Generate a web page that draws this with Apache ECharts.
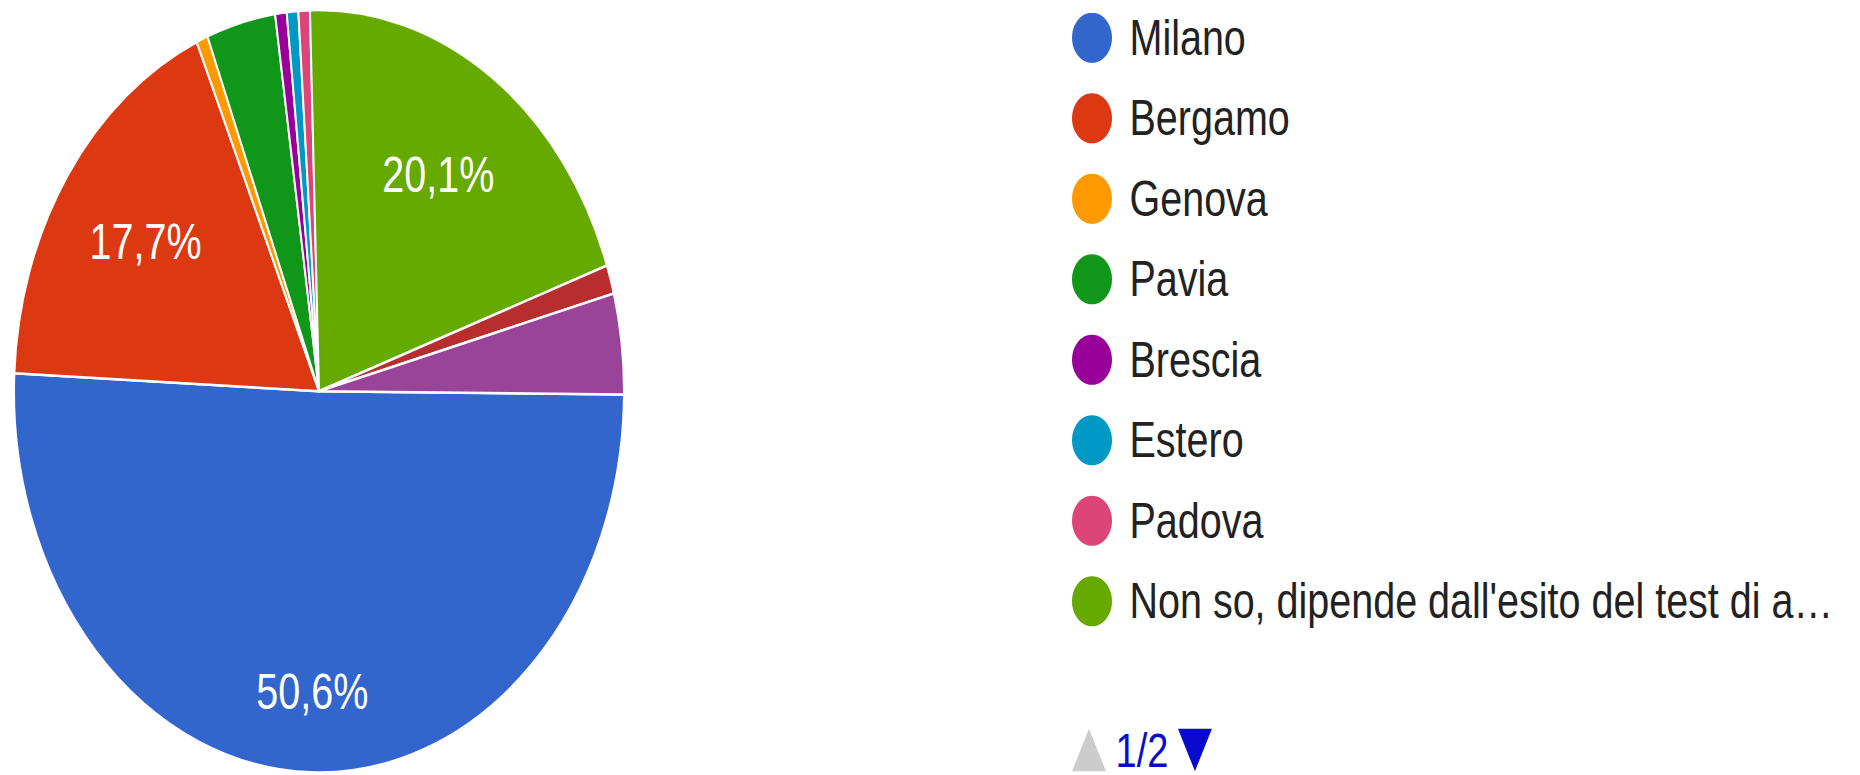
<!DOCTYPE html>
<html>
<head>
<meta charset="utf-8">
<script src="https://cdn.jsdelivr.net/npm/echarts@6/dist/echarts.min.js"></script>
<style>
  html, body { margin: 0; padding: 0; background: #fff; }
  #page { width: 1860px; height: 775px; position: relative; overflow: hidden; }
  #wrap { position: absolute; left: 0; top: 0; width: 1860px; height: 620px; transform: scaleY(1.25); transform-origin: 0 0; }
</style>
</head>
<body>
<div id="page"><div id="wrap"></div></div>
<script>
const categories = ['Milano', 'Bergamo', 'Genova', 'Pavia', 'Brescia', 'Estero', 'Padova',
  "Non so, dipende dall'esito del test di a\u2026", 'Altro', 'Altra città'];
const counts = [83, 29, 1, 6, 1, 1, 1, 33, 2, 7];
const colors = ['#3366cc', '#dc3912', '#ff9900', '#109618', '#990099', '#0099c6', '#dd4477',
  '#66aa00', '#b82e2e', '#994499'];
const labelThreshold = 5; // percent

const FONT = '"Liberation Sans", Arial, sans-serif';
const FS = 39.5;
const fmtPct = p => p.toFixed(1).replace('.', ',') + '%';
const pieData = categories.map((n, i) => ({ name: n, value: counts[i] }));

const chart = echarts.init(document.getElementById('wrap'), null, { renderer: 'svg', width: 1860, height: 620 });
const R = 305;
const CENTER = [319, 313];
const START = -0.5;
const PAGER_BLUE = '#0a0acc';

function overlay(r0, test) {
  return {
    type: 'pie',
    radius: [r0, R],
    center: CENTER,
    startAngle: START,
    silent: true,
    z: 5,
    data: pieData,
    itemStyle: { color: 'rgba(0,0,0,0)', borderWidth: 0 },
    emphasis: { disabled: true },
    labelLine: { show: false },
    label: {
      show: true,
      position: 'inside',
      color: '#ffffff',
      fontSize: FS,
      fontFamily: FONT,
      formatter: p => (p.percent >= labelThreshold && test(p.dataIndex)) ? fmtPct(p.percent) : ''
    }
  };
}

const legendBase = {
  type: 'scroll',
  orient: 'vertical',
  left: 1072,
  top: 10.2,
  height: 608.8,
  padding: 0,
  itemWidth: 41,
  itemHeight: 40,
  itemGap: 24.4,
  icon: 'circle',
  data: categories,
  itemStyle: { borderWidth: 0 },
  pageIconSize: [34, 36],
  pageButtonItemGap: -7.3,
  pageButtonGap: 68
};

chart.setOption({
  animation: false,
  color: colors,
  legend: [
    // visible items; its own page controls are hidden
    Object.assign({}, legendBase, {
      textStyle: { fontSize: FS, color: '#222222', fontFamily: FONT, lineHeight: 36, padding: [0, 0, 0, 12] },
      pageIconColor: 'rgba(0,0,0,0)',
      pageIconInactiveColor: 'rgba(0,0,0,0)',
      pageFormatter: () => '',
      pageTextStyle: { color: 'rgba(0,0,0,0)', fontSize: 38, lineHeight: 36, fontFamily: FONT }
    }),
    // same paging, empty narrow items: shows the page controls under the markers
    Object.assign({}, legendBase, {
      selectedMode: false,
      formatter: () => '',
      itemStyle: { borderWidth: 0, opacity: 0 },
      textStyle: { fontSize: FS, color: 'rgba(0,0,0,0)', fontFamily: FONT, lineHeight: 36,
        padding: [0, 0, 0, 12], width: 82, overflow: 'truncate' },
      pageIconColor: PAGER_BLUE,
      pageIconInactiveColor: '#cccccc',
      pageTextStyle: { color: PAGER_BLUE, fontSize: 38, lineHeight: 36, fontFamily: FONT }
    })
  ],
  series: [
    {
      type: 'pie',
      radius: R,
      center: CENTER,
      startAngle: START,
      data: pieData,
      itemStyle: { borderColor: '#ffffff', borderWidth: 2 },
      label: { show: false },
      labelLine: { show: false },
      emphasis: { disabled: true }
    },
    overlay(110, i => i !== 0),
    overlay(171, i => i === 0)
  ]
});
</script>
</body>
</html>
